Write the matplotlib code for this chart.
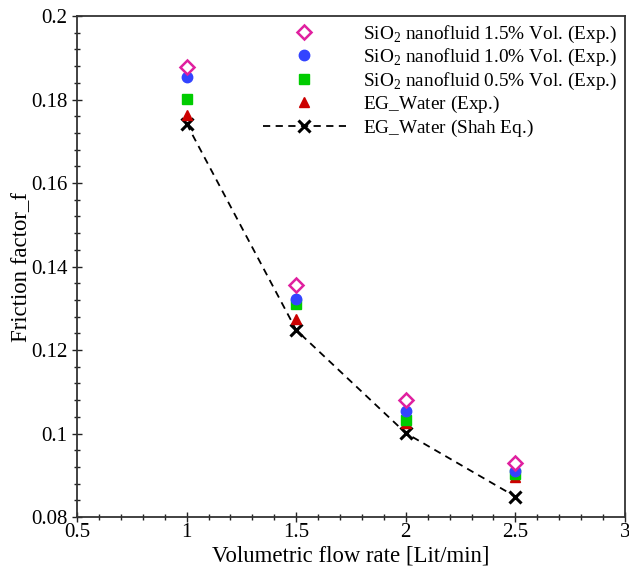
import numpy as np
import matplotlib
matplotlib.use('Agg')
import matplotlib.pyplot as plt
from matplotlib.ticker import MultipleLocator

# flow rate [Lit/min]
flow = [1.0, 1.5, 2.0, 2.5]

# friction factor
f_sio2_15 = [0.1879, 0.1356, 0.1080, 0.0930]
f_sio2_10 = [0.1853, 0.1321, 0.1054, 0.0910]
f_sio2_05 = [0.1802, 0.1311, 0.1032, 0.0904]
f_egw_exp = [0.1763, 0.1274, 0.1025, 0.0897]
f_egw_shah = [0.1742, 0.1248, 0.1001, 0.0849]

labels = ['SiO$_2$ nanofluid 1.5% Vol. (Exp.)',
          'SiO$_2$ nanofluid 1.0% Vol. (Exp.)',
          'SiO$_2$ nanofluid 0.5% Vol. (Exp.)',
          'EG_Water (Exp.)$_{\\,}$',
          'EG_Water (Shah Eq.)$_{\\,}$']

plt.rcParams['font.family'] = 'Liberation Serif'
plt.rcParams['mathtext.fontset'] = 'custom'
plt.rcParams['mathtext.rm'] = 'Liberation Serif'

fig = plt.figure(figsize=(6.29, 5.76), dpi=100)
ax = fig.add_axes([0.1224, 0.1024, 0.8712, 0.8698])

ax.plot(flow, f_egw_shah, ls=(0, (4, 3)), color='black', lw=1.3,
        marker='x', ms=8, mew=2.2, label=labels[4])
ax.plot(flow, f_egw_exp, ls='none', marker='^', ms=7, color='#CC0000', label=labels[3])
ax.plot(flow, f_sio2_05, ls='none', marker='s', ms=6.5, color='#00CC00', label=labels[2])
ax.plot(flow, f_sio2_10, ls='none', marker='o', ms=7.5, color='#3344FF', label=labels[1])
ax.plot(flow, f_sio2_15, ls='none', marker='D', ms=7.5, mfc='white', mec='#E0209F',
        mew=1.8, label=labels[0])

ax.set_xlim(0.5, 3)
ax.set_ylim(0.08, 0.2)
ax.xaxis.set_major_locator(MultipleLocator(0.5))
ax.xaxis.set_minor_locator(MultipleLocator(0.1))
ax.yaxis.set_major_locator(MultipleLocator(0.02))
ax.yaxis.set_minor_locator(MultipleLocator(0.004))
ax.xaxis.set_major_formatter(plt.FuncFormatter(lambda v, p: ('%g' % v)))
ax.yaxis.set_major_formatter(plt.FuncFormatter(lambda v, p: ('%g' % round(v, 3))))
ax.tick_params(which='both', direction='inout', top=False, right=False,
               labelsize=15, colors='#222222', labelcolor='black')
ax.tick_params(which='major', length=7, width=1)
ax.tick_params(which='minor', length=5, width=1)
ax.tick_params(axis='x', pad=1)
for s in ax.spines.values():
    s.set_color('#333333')
    s.set_linewidth(1.3)

ax.set_xlabel('Volumetric flow rate [Lit/min]', fontsize=16.4, labelpad=2)
ax.set_ylabel('Friction factor_f', fontsize=16.4, labelpad=-1)

h, l = ax.get_legend_handles_labels()
order = [4, 3, 2, 1, 0]
ax.legend([h[i] for i in order], [l[i] for i in order], loc='upper right',
          frameon=False, fontsize=13.9, numpoints=1, handlelength=4.3,
          handletextpad=0.9, labelspacing=0.12, borderpad=0.35,
          borderaxespad=0.05)

fig.savefig('out.png', dpi=100)
